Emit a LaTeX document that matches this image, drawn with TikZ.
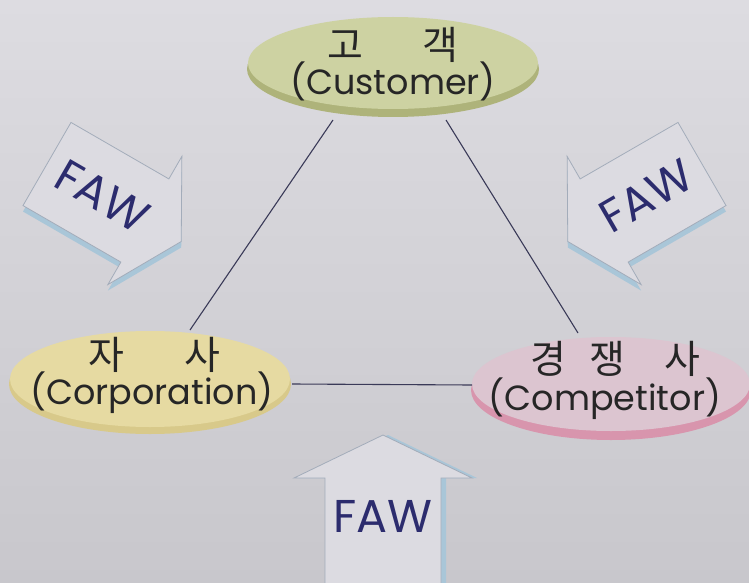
\documentclass[tikz,border=0pt]{standalone}
\usepackage{fontspec}
\setmainfont{Poppins}
\newfontfamily\krfont{Noto Sans CJK KR}
\usetikzlibrary{calc}
\definecolor{bgtop}{HTML}{DDDCE1}
\definecolor{bgbot}{HTML}{C8C7CC}
\definecolor{linkcol}{HTML}{3A3A58}
\definecolor{fawtext}{HTML}{2C2C6E}
\definecolor{arrowfill}{HTML}{DCDBE1}
\definecolor{arrowedge}{HTML}{A3ACBA}
\definecolor{arrowside}{HTML}{A9C6D8}
\definecolor{custface}{HTML}{CDD2A2}
\definecolor{custrim}{HTML}{AEB37A}
\definecolor{corpface}{HTML}{E6DAA2}
\definecolor{corprim}{HTML}{D8C98A}
\definecolor{compface}{HTML}{DCC5D0}
\definecolor{comprim}{HTML}{D895AD}
\tikzset{
  x=1pt, y=-1pt,
  link/.style={draw=linkcol, line width=1.1pt},
  korean/.style={font=\krfont\fontsize{39}{39}\selectfont, text=black!85},
  latin/.style={font=\fontsize{35}{35}\selectfont, text=black!85},
  fawlabel/.style={font=\fontsize{46}{46}\selectfont, text=fawtext, inner sep=0pt},
  arrowbody/.style={fill=arrowfill, draw=arrowedge, line width=0.8pt, line join=miter},
  arrowshade/.style={fill=arrowside, draw=none},
}
% block arrow along +x: body half-width #1, body length #2, head half-width #3, head length #4
\newcommand{\blockarrowpath}[4]{(0,-#1) -- (#2,-#1) -- (#2,-#3) -- (#2+#4,0) -- (#2,#3) -- (#2,#1) -- (0,#1) -- cycle}
\begin{document}
\begin{tikzpicture}
  \useasboundingbox (0,0) rectangle (749,583);
  \shade[top color=bgtop, bottom color=bgbot] (0,0) rectangle (749,583);

  % connectors between the three parties
  \coordinate (custL) at (333,120);
  \coordinate (custR) at (446,120);
  \coordinate (corpT) at (190,330);
  \coordinate (corpR) at (292,384);
  \coordinate (compT) at (578,333);
  \coordinate (compL) at (472,385);

  % ellipses (disc with darker rim)
  \fill[custrim] (393,69) ellipse [x radius=146, y radius=48];
  \fill[custface] (393,63) ellipse [x radius=145, y radius=46];
  \fill[corprim] (150,384) ellipse [x radius=141, y radius=50];
  \fill[corpface] (150,379) ellipse [x radius=140, y radius=48];
  \fill[comprim] (611,390) ellipse [x radius=140, y radius=50];
  \fill[compface] (611,384) ellipse [x radius=139, y radius=47];

  \draw[link] (custL) -- (corpT);
  \draw[link] (custR) -- (compT);
  \draw[link] (corpR) -- (compL);

  % labels
  \node[korean] (custk1) at (345,45) {고};
  \node[korean] (custk2) at (440,45) {객};
  \node[latin] (cust) at (393,81) {(Customer)};
  \node[korean] (corpk1) at (106,355) {자};
  \node[korean] (corpk2) at (202,355) {사};
  \node[latin] (corp) at (152,393) {(Corporation)};
  \node[korean] (compk1) at (548,359) {경};
  \node[korean] (compk2) at (607,359) {쟁};
  \node[korean] (compk3) at (682,359) {사};
  \node[latin] (comp) at (605,399) {(Competitor)};

  % FAW arrows
  \begin{scope}[shift={(47,170)}, rotate=-30]
    \fill[arrowshade] \blockarrowpath{48}{113}{74}{42};
  \end{scope}
  \begin{scope}[shift={(47,164)}, rotate=-30]
    \filldraw[arrowbody] \blockarrowpath{48}{113}{74}{42};
    \node[fawlabel, rotate=-30] (fawL) at (64,0) {FAW};
  \end{scope}

  \begin{scope}[shift={(702,170)}, rotate=210]
    \fill[arrowshade] \blockarrowpath{48}{113}{74}{42};
  \end{scope}
  \begin{scope}[shift={(702,164)}, rotate=210]
    \filldraw[arrowbody] \blockarrowpath{48}{113}{74}{42};
    \node[fawlabel, rotate=30] (fawR) at (64,0) {FAW};
  \end{scope}

  \begin{scope}[shift={(388,604)}, rotate=90]
    \fill[arrowshade] \blockarrowpath{58}{126}{89}{43};
  \end{scope}
  \begin{scope}[shift={(383,600)}, rotate=90]
    \filldraw[arrowbody] \blockarrowpath{58}{122}{89}{43};
  \end{scope}
  \node[fawlabel] (fawB) at (383,516) {FAW};
\end{tikzpicture}
\end{document}
